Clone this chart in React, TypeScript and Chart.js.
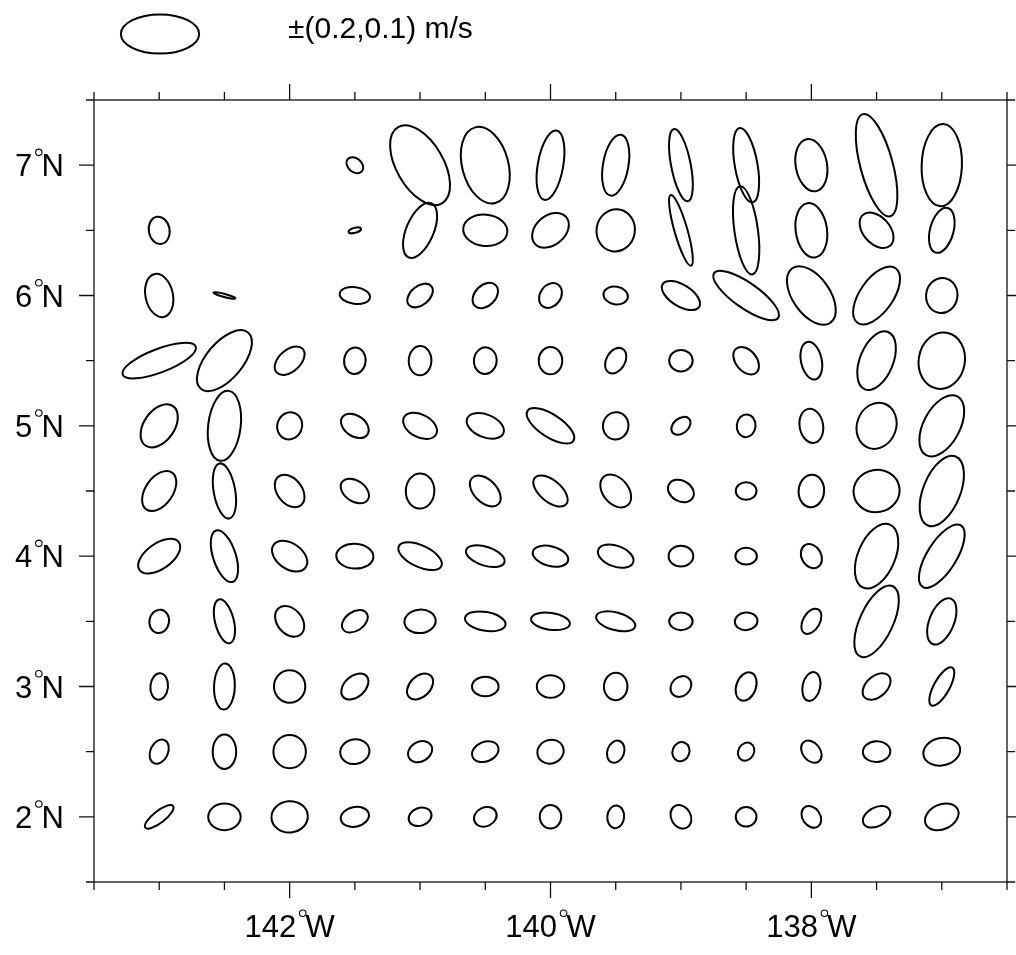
import React, { useEffect, useRef } from 'react';
import { Chart, registerables } from 'chart.js';

Chart.register(...registerables);

// Grid of ellipse centres (longitude as negative = west, latitude north)
const LONGITUDES = [-143, -142.5, -142, -141.5, -141, -140.5, -140, -139.5, -139, -138.5, -138, -137.5, -137];
const LATITUDES = [7, 6.5, 6, 5.5, 5, 4.5, 4, 3.5, 3, 2.5, 2];

// Semi-major axis (m/s), one row per latitude; null = no data
const SEMI_MAJOR: (number | null)[][] = [
  [null, null, null, 0.048, 0.225, 0.200, 0.180, 0.158, 0.188, 0.193, 0.135, 0.270, 0.210],
  [0.070, null, null, 0.033, 0.150, 0.113, 0.105, 0.108, 0.188, 0.228, 0.140, 0.105, 0.118],
  [0.112, 0.058, null, 0.078, 0.075, 0.075, 0.068, 0.063, 0.110, 0.200, 0.170, 0.170, 0.090],
  [0.200, 0.188, 0.090, 0.068, 0.075, 0.068, 0.070, 0.070, 0.060, 0.080, 0.098, 0.158, 0.145],
  [0.123, 0.180, 0.070, 0.078, 0.093, 0.100, 0.140, 0.070, 0.055, 0.058, 0.088, 0.120, 0.170],
  [0.115, 0.143, 0.093, 0.080, 0.090, 0.095, 0.105, 0.095, 0.070, 0.053, 0.083, 0.118, 0.190],
  [0.123, 0.138, 0.100, 0.095, 0.120, 0.103, 0.093, 0.095, 0.063, 0.055, 0.065, 0.175, 0.185],
  [0.060, 0.115, 0.088, 0.073, 0.080, 0.105, 0.100, 0.103, 0.060, 0.058, 0.070, 0.198, 0.125],
  [0.068, 0.118, 0.083, 0.080, 0.078, 0.068, 0.070, 0.070, 0.058, 0.075, 0.075, 0.083, 0.110],
  [0.065, 0.088, 0.085, 0.075, 0.065, 0.070, 0.068, 0.058, 0.050, 0.048, 0.063, 0.070, 0.095],
  [0.090, 0.083, 0.093, 0.073, 0.060, 0.060, 0.060, 0.058, 0.063, 0.053, 0.060, 0.075, 0.090],
];

// Semi-minor axis (m/s)
const SEMI_MINOR: (number | null)[][] = [
  [null, null, null, 0.035, 0.120, 0.118, 0.065, 0.065, 0.050, 0.058, 0.080, 0.083, 0.103],
  [0.053, null, null, 0.013, 0.070, 0.080, 0.075, 0.098, 0.033, 0.060, 0.080, 0.068, 0.060],
  [0.070, 0.008, null, 0.043, 0.048, 0.053, 0.053, 0.045, 0.055, 0.065, 0.095, 0.085, 0.080],
  [0.060, 0.093, 0.055, 0.055, 0.058, 0.058, 0.060, 0.048, 0.055, 0.053, 0.053, 0.085, 0.118],
  [0.078, 0.083, 0.063, 0.053, 0.058, 0.058, 0.058, 0.065, 0.038, 0.048, 0.060, 0.100, 0.093],
  [0.070, 0.055, 0.063, 0.053, 0.073, 0.058, 0.055, 0.065, 0.053, 0.045, 0.065, 0.108, 0.095],
  [0.065, 0.058, 0.065, 0.063, 0.055, 0.048, 0.050, 0.053, 0.053, 0.043, 0.050, 0.095, 0.075],
  [0.050, 0.048, 0.063, 0.048, 0.060, 0.048, 0.043, 0.045, 0.045, 0.045, 0.043, 0.085, 0.063],
  [0.045, 0.053, 0.080, 0.053, 0.053, 0.050, 0.058, 0.060, 0.048, 0.050, 0.045, 0.053, 0.040],
  [0.045, 0.060, 0.083, 0.063, 0.050, 0.050, 0.060, 0.043, 0.043, 0.040, 0.045, 0.053, 0.070],
  [0.030, 0.068, 0.080, 0.050, 0.045, 0.048, 0.055, 0.043, 0.050, 0.050, 0.045, 0.048, 0.063],
];

// Orientation of the major axis, degrees counter-clockwise from east
const ORIENTATION: (number | null)[][] = [
  [null, null, null, -40, -60, -75, 80, 80, -79, -80, -80, -75, 88],
  [-80, null, null, 15, 67, -5, 40, 80, -74, -82, -82, -48, 75],
  [-78, -15, null, -8, 40, 45, 55, -10, -32, -35, -55, 55, 80],
  [21, 50, 42, 85, 88, 85, 90, 60, 0, -50, -78, 68, 80],
  [55, 83, 70, -35, -28, -22, -33, 80, 40, 85, -80, 70, 62],
  [55, -80, -52, -35, 88, -45, -40, -50, -30, 0, 85, 10, 68],
  [35, -72, -35, -3, -25, -18, -15, -20, 0, 0, -60, 67, 58],
  [80, -76, -50, 35, 5, -10, -8, -15, 0, 5, 60, 65, 68],
  [85, 88, 90, 42, 45, 0, 0, 88, 45, 70, 78, 42, 61],
  [65, 90, 90, 10, 30, 22, 20, 70, 70, 60, -52, 3, 12],
  [38, 0, 5, 12, 20, 25, 90, 85, -60, 0, -55, 28, 25],
];

// Axis tick labels
const X_LABEL_VALUES = [-142, -140, -138];
const X_LABELS = ['142', '140', '138'];
const Y_LABEL_VALUES = [7, 6, 5, 4, 3, 2];
const Y_LABELS = ['7', '6', '5', '4', '3', '2'];

// Reference ellipse (legend)
const LEGEND_MAJOR = 0.2;
const LEGEND_MINOR = 0.1;
const LEGEND_TEXT = '±(0.2,0.1) m/s';

// Map scale: degrees of longitude per 1 m/s
const DEG_PER_MS = 1.5;

const X_MIN = -143.5, X_MAX = -136.5, Y_MIN = 1.5, Y_MAX = 7.5;
const FONT = '"Liberation Sans", Arial, Helvetica, sans-serif';

type EPoint = { x: number; y: number; major: number; minor: number; angle: number };

function buildPoints(): EPoint[] {
  const pts: EPoint[] = [];
  LATITUDES.forEach((lat, r) => {
    LONGITUDES.forEach((lon, c) => {
      const a = SEMI_MAJOR[r][c];
      const b = SEMI_MINOR[r][c];
      const t = ORIENTATION[r][c];
      if (a != null && b != null && t != null) pts.push({ x: lon, y: lat, major: a, minor: b, angle: t });
    });
  });
  return pts;
}

function drawDegLabel(ctx: CanvasRenderingContext2D, num: string, letter: string, anchorX: number, baseline: number, align: 'center' | 'right', size: number) {
  ctx.save();
  ctx.font = `${size}px ${FONT}`;
  ctx.textAlign = 'left';
  ctx.textBaseline = 'alphabetic';
  ctx.fillStyle = '#000';
  const wN = ctx.measureText(num).width;
  const wL = ctx.measureText(letter).width;
  const gap = size * 0.3;
  const total = wN + gap + wL;
  const start = align === 'center' ? anchorX - total / 2 : anchorX - total;
  ctx.fillText(num, start, baseline);
  ctx.fillText(letter, start + wN + gap, baseline);
  ctx.beginPath();
  ctx.lineWidth = 1.1;
  ctx.strokeStyle = '#000';
  ctx.arc(start + wN + gap * 0.7, baseline - size * 0.72 - 1.5, size * 0.105, 0, Math.PI * 2);
  ctx.stroke();
  ctx.restore();
}

const ellipsePlugin = {
  id: 'ellipses',
  afterDatasetsDraw(chart: any) {
    const { ctx, scales } = chart;
    const xs = scales.x, ys = scales.y;
    const pts: EPoint[] = chart.data.datasets[0].data;
    ctx.save();
    ctx.strokeStyle = '#000';
    ctx.lineWidth = 2;
    for (const p of pts) {
      const cx = xs.getPixelForValue(p.x);
      const cy = ys.getPixelForValue(p.y);
      const rx = Math.abs(xs.getPixelForValue(p.x + p.major * DEG_PER_MS) - cx);
      const ry = Math.abs(xs.getPixelForValue(p.x + p.minor * DEG_PER_MS) - cx);
      ctx.beginPath();
      ctx.ellipse(cx, cy, rx, Math.max(ry, 0.6), (-p.angle * Math.PI) / 180, 0, Math.PI * 2);
      ctx.stroke();
    }
    ctx.restore();
  },
  afterDraw(chart: any) {
    const { ctx, chartArea, scales } = chart;
    const xs = scales.x, ys = scales.y;
    const { left, right, top, bottom } = chartArea;
    ctx.save();
    ctx.strokeStyle = '#111';
    ctx.lineWidth = 1.3;
    ctx.strokeRect(left, top, right - left, bottom - top);
    // ticks
    ctx.beginPath();
    for (let v = X_MIN; v <= X_MAX + 1e-9; v += 0.5) {
      const px = xs.getPixelForValue(v);
      const len = X_LABEL_VALUES.includes(v) ? 16 : 8;
      ctx.moveTo(px, top); ctx.lineTo(px, top - len);
      ctx.moveTo(px, bottom); ctx.lineTo(px, bottom + len);
    }
    for (let v = Y_MIN; v <= Y_MAX + 1e-9; v += 0.5) {
      const py = ys.getPixelForValue(v);
      const len = Y_LABEL_VALUES.includes(v) ? 15 : 8;
      ctx.moveTo(left, py); ctx.lineTo(left - len, py);
      ctx.moveTo(right, py); ctx.lineTo(right + len, py);
    }
    ctx.stroke();
    ctx.restore();

    X_LABEL_VALUES.forEach((v, i) => {
      drawDegLabel(ctx, X_LABELS[i], 'W', xs.getPixelForValue(v), bottom + 55, 'center', 31);
    });
    Y_LABEL_VALUES.forEach((v, i) => {
      drawDegLabel(ctx, Y_LABELS[i], 'N', left - 30, ys.getPixelForValue(v) + 11, 'right', 31);
    });

    // legend: reference ellipse and text
    const rx = Math.abs(xs.getPixelForValue(X_MIN + LEGEND_MAJOR * DEG_PER_MS) - xs.getPixelForValue(X_MIN));
    const ry = Math.abs(xs.getPixelForValue(X_MIN + LEGEND_MINOR * DEG_PER_MS) - xs.getPixelForValue(X_MIN));
    ctx.save();
    ctx.strokeStyle = '#000';
    ctx.lineWidth = 2;
    ctx.beginPath();
    ctx.ellipse(160, 34, rx, ry, 0, 0, Math.PI * 2);
    ctx.stroke();
    ctx.fillStyle = '#000';
    ctx.font = `30px ${FONT}`;
    ctx.textAlign = 'left';
    ctx.textBaseline = 'alphabetic';
    ctx.fillText(LEGEND_TEXT, 288, 38);
    ctx.restore();
  },
};

export default function App() {
  const ref = useRef<HTMLCanvasElement | null>(null);
  useEffect(() => {
    if (!ref.current) return;
    const chart = new Chart(ref.current, {
      type: 'scatter',
      data: {
        datasets: [
          {
            label: 'ellipses',
            data: buildPoints() as any,
            pointRadius: 0,
            pointHoverRadius: 0,
            showLine: false,
          },
        ],
      },
      options: {
        responsive: false,
        animation: false,
        layout: { padding: { left: 94, right: 9, top: 100, bottom: 73 } },
        scales: {
          x: { type: 'linear', min: X_MIN, max: X_MAX, display: false },
          y: { type: 'linear', min: Y_MIN, max: Y_MAX, display: false },
        },
        plugins: { legend: { display: false }, tooltip: { enabled: false } },
        events: [],
      },
      plugins: [ellipsePlugin],
    });
    return () => chart.destroy();
  }, []);
  return (
    <div style={{ position: 'absolute', left: 0, top: 0, width: 1016, height: 955, background: '#fff' }}>
      <canvas ref={ref} width={1016} height={955} style={{ display: 'block' }} />
    </div>
  );
}
